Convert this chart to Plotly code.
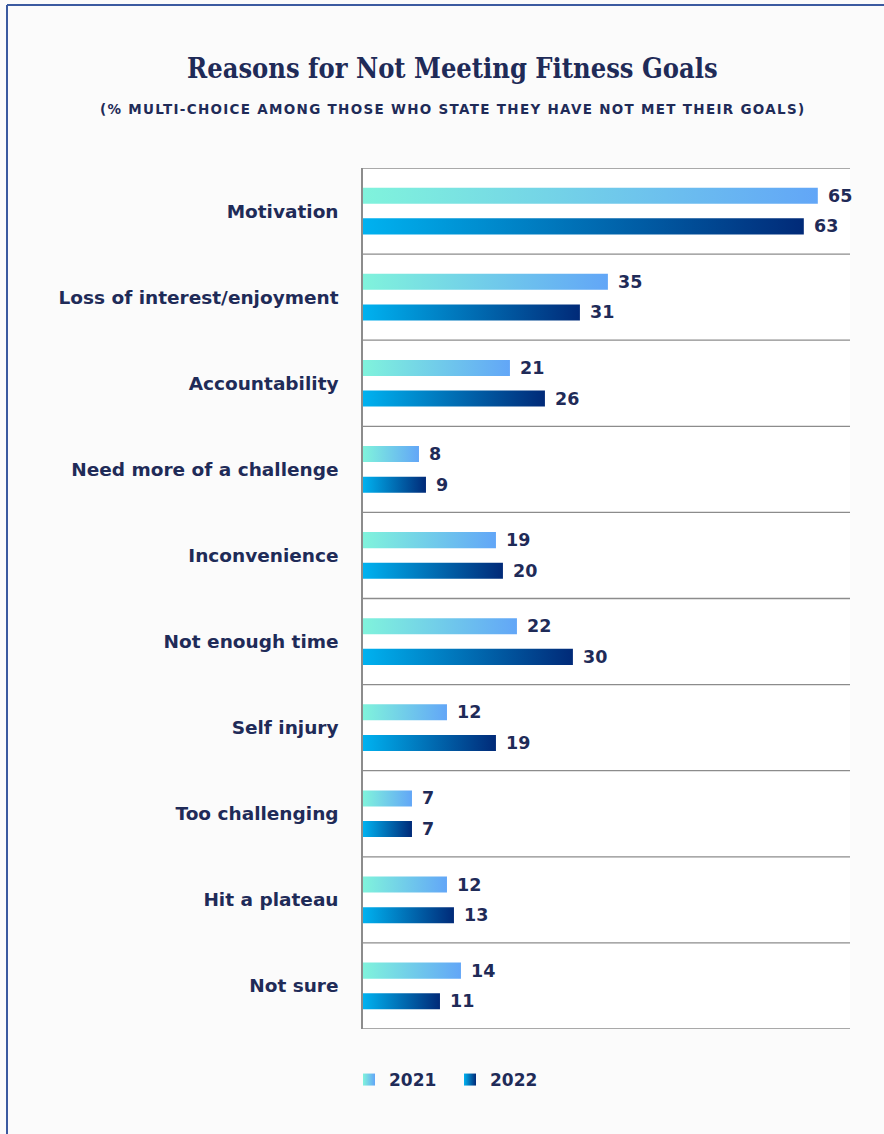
import plotly.graph_objects as go

categories = ["Motivation", "Loss of interest/enjoyment", "Accountability",
              "Need more of a challenge", "Inconvenience", "Not enough time",
              "Self injury", "Too challenging", "Hit a plateau", "Not sure"]
values_2021 = [65, 35, 21, 8, 19, 22, 12, 7, 12, 14]
values_2022 = [63, 31, 26, 9, 20, 30, 19, 7, 13, 11]
series_names = ["2021", "2022"]

NAVY = "#1f2b58"
GRAD_2021 = ["#80f3dc", "#62a6f7"]
GRAD_2022 = ["#00b2f0", "#012a78"]

W, H = 884, 1134
ML, MR, MT, MB = 363, 34, 168, 105
PW, PH = W - ML - MR, H - MT - MB

def px_x(px):
    return (px - ML) / PW

def px_y(py):
    return (H - MB - py) / PH

OFF = 0.178
HALF = 0.093

fig = go.Figure()

for series, vals, grad, sign in [(series_names[0], values_2021, GRAD_2021, -1),
                                 (series_names[1], values_2022, GRAD_2022, 1)]:
    for i, v in enumerate(vals):
        c = i + sign * OFF
        fig.add_trace(go.Scatter(
            x=[0, v, v, 0, 0],
            y=[c - HALF, c - HALF, c + HALF, c + HALF, c - HALF],
            mode="lines", fill="toself",
            fillgradient=dict(type="horizontal",
                              colorscale=[[0, grad[0]], [1, grad[1]]]),
            line=dict(width=0, color=grad[1]),
            showlegend=False, hoverinfo="skip", legendgroup=series))
        fig.add_annotation(x=v, y=c, xref="x", yref="y", text=f"<b>{v}</b>",
                           showarrow=False, xanchor="left", xshift=8,
                           font=dict(family="DejaVu Sans", size=17.5, color=NAVY))
    fig.add_trace(go.Scatter(
        x=[None], y=[None], mode="markers", name=f"<b>{series}</b>", legendgroup=series,
        marker=dict(symbol="square", size=11, color=grad[0],
                    gradient=dict(type="horizontal", color=grad[1]),
                    line=dict(width=0))))

# category boundary lines
for b in range(len(categories) + 1):
    fig.add_shape(type="line", xref="paper", yref="y", x0=0, x1=1,
                  y0=b - 0.5, y1=b - 0.5, line=dict(color="#8c8c8c", width=1.3))

# frame
fig.add_shape(type="line", xref="paper", yref="paper",
              x0=px_x(7), x1=px_x(7), y0=px_y(5), y1=px_y(1140),
              line=dict(color="#3b5aa0", width=2))
fig.add_shape(type="line", xref="paper", yref="paper",
              x0=px_x(7), x1=px_x(900), y0=px_y(5), y1=px_y(5),
              line=dict(color="#3b5aa0", width=2))

fig.add_annotation(xref="paper", yref="paper", x=px_x(452), y=px_y(68),
                   text="<b>Reasons for Not Meeting Fitness Goals</b>",
                   showarrow=False, xanchor="center", yanchor="middle",
                   font=dict(family="DejaVu Serif Condensed, DejaVu Serif", size=27, color=NAVY))
fig.add_annotation(xref="paper", yref="paper", x=px_x(452), y=px_y(109),
                   text="<span style=\"letter-spacing:1.3px\"><b>(% MULTI-CHOICE AMONG THOSE WHO STATE THEY HAVE NOT MET THEIR GOALS)</b></span>",
                   showarrow=False, xanchor="center", yanchor="middle",
                   font=dict(family="DejaVu Sans", size=13.5, color=NAVY))

fig.update_xaxes(range=[0, 69.6], showticklabels=False, showgrid=False,
                 zeroline=False, showline=False, fixedrange=True)
fig.update_yaxes(range=[len(categories) - 0.5, -0.5], tickvals=list(range(len(categories))),
                 ticktext=[f"<b>{c}</b>" for c in categories], showgrid=False, zeroline=False,
                 showline=True, linecolor="#8c8c8c", linewidth=1.5,
                 ticks="", ticklabelstandoff=19,
                 tickfont=dict(family="DejaVu Sans", size=18.5, color=NAVY))

fig.update_layout(
    width=W, height=H,
    margin=dict(l=ML, r=MR, t=MT, b=MB, autoexpand=False),
    paper_bgcolor="#fbfbfb", plot_bgcolor="#ffffff",
    showlegend=True,
    legend=dict(orientation="h", x=px_x(349), y=px_y(1062), xanchor="left", yanchor="top",
                font=dict(family="DejaVu Sans", size=17, color=NAVY),
                bgcolor="rgba(0,0,0,0)", entrywidth=56, itemsizing="constant",
                traceorder="normal"),
)

fig.write_html("out.html")
